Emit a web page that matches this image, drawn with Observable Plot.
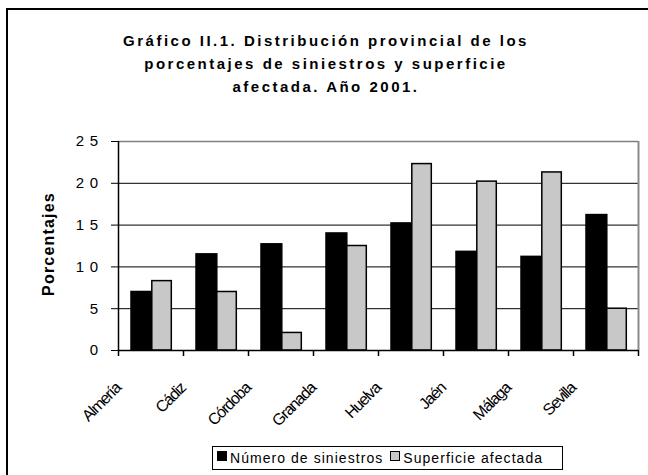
<!DOCTYPE html>
<html><head><meta charset="utf-8">
<script src="https://cdn.jsdelivr.net/npm/d3@7"></script>
<script src="https://cdn.jsdelivr.net/npm/@observablehq/plot@0.6"></script>
<style>
html,body{margin:0;padding:0;background:#fff;overflow:hidden;}
#wrap{position:relative;width:648px;height:475px;overflow:hidden;font-family:"Liberation Sans",Arial,sans-serif;color:#000;}
#chart{position:absolute;left:0;top:0;}
#hline{position:absolute;left:6px;top:8px;width:642px;height:2px;background:#000;z-index:11;}
#vline{position:absolute;left:6px;top:8px;width:2px;height:467px;background:#000;}
#title{position:absolute;left:0;width:652px;top:29px;text-align:center;font-weight:bold;font-size:15px;letter-spacing:2.5px;line-height:23px;}
#legend{position:absolute;left:212px;top:446px;width:349px;height:22px;border:1px solid #000;display:flex;align-items:center;font-size:14px;letter-spacing:1.05px;}
#legend .sw{display:inline-block;width:8px;height:8px;border:1px solid #000;margin:0 3px 0 4px;position:relative;top:-2px;}
#legend .lt{margin-right:3px;}
</style>
</head><body>
<div id="wrap">
<div id="chart"></div>
<div id="hline"></div>
<div id="vline"></div>
<div id="title"></div>
<div id="legend"></div>
</div>
<script>
const titleLines = ["Gráfico II.1. Distribución provincial de los", "porcentajes de siniestros y superficie", "afectada. Año 2001."];
const provincias = ["Almería","Cádiz","Córdoba","Granada","Huelva","Jaén","Málaga","Sevilla"];
const series = ["Número de siniestros","Superficie afectada"];
const numeroSiniestros = [7.0, 11.5, 12.7, 14.0, 15.2, 11.8, 11.2, 16.2];
const superficieAfectada = [8.3, 7.0, 2.1, 12.5, 22.3, 20.2, 21.3, 5.0];
const yTicks = [0, 5, 10, 15, 20, 25];
const yTickLabels = ["0", "5", "10", "15", "20", "25"];
const gridValues = [5, 10, 15, 20];
const yLabel = "Porcentajes";
const colors = ["#000000", "#c8c8c8"];

const W = 648, H = 475, mL = 118, mR = 10, mT = 141, mB = 125;
const step = (W - mL - mR) / provincias.length;
const half = step / 2;
const last = provincias[provincias.length - 1];

const rows = provincias.flatMap((p, i) => [
  {p, s: series[0], v: numeroSiniestros[i]},
  {p, s: series[1], v: superficieAfectada[i]}
]);
const tickRows = yTicks.map((v, i) => ({v, label: yTickLabels[i]}));

const chart = Plot.plot({
  width: W, height: H,
  marginLeft: mL, marginRight: mR, marginTop: mT, marginBottom: mB,
  style: {fontFamily: "'Liberation Sans', Arial, sans-serif", fontSize: "15px", color: "#000", background: "transparent"},
  x: {domain: provincias, padding: 0, axis: null},
  y: {domain: [0, 25], ticks: yTicks, tickSize: 7, tickPadding: 7, label: null, tickFormat: () => ""},
  marks: [
    Plot.ruleY(gridValues, {stroke: "#000", strokeWidth: 1}),
    Plot.ruleY([25], {stroke: "#808080", strokeWidth: 1.5}),
    Plot.ruleX([last], {x: d => d, y1: 0, y2: 25, dx: half, stroke: "#8a8a8a", strokeWidth: 2}),
    Plot.barY(rows.filter(d => d.s === series[0]), {x: "p", y: "v", fill: colors[0], stroke: "#000", strokeWidth: 1.5, insetLeft: 0.2 * step, insetRight: 0.48 * step}),
    Plot.barY(rows.filter(d => d.s === series[1]), {x: "p", y: "v", fill: colors[1], stroke: "#000", strokeWidth: 1.5, insetLeft: 0.52 * step, insetRight: 0.18 * step}),
    Plot.ruleY([0], {stroke: "#000", strokeWidth: 1.5}),
    Plot.ruleX([provincias[0]], {x: d => d, y1: 0, y2: 25, dx: -half, stroke: "#000", strokeWidth: 1.5}),
    Plot.ruleX(provincias, {x: d => d, y1: 0, y2: 0, insetBottom: -6, dx: -half, stroke: "#000", strokeWidth: 1.5}),
    Plot.ruleX([last], {x: d => d, y1: 0, y2: 0, insetBottom: -6, dx: half, stroke: "#000", strokeWidth: 1.5}),
    Plot.text(tickRows, {y: "v", text: "label", frameAnchor: "left", textAnchor: "end", dx: -15, fontSize: 15}),
    Plot.text(provincias, {x: d => d, y: 0, text: d => d, rotate: -45, textAnchor: "end", dx: -33, dy: 35, fontSize: 16}),
    Plot.text([yLabel], {frameAnchor: "left", text: d => d, rotate: -90, textAnchor: "middle", dx: -70, dy: -2, fontWeight: "bold", fontSize: 16})
  ]
});
document.getElementById("chart").appendChild(chart);

d3.select(chart).selectAll("text").each(function() {
  const s = this.textContent;
  if (yTickLabels.includes(s)) this.setAttribute("letter-spacing", "5.5");
  else if (provincias.includes(s)) this.setAttribute("letter-spacing", "-1.2");
  else if (s === yLabel) this.setAttribute("letter-spacing", "1.2");
});

const t = document.getElementById("title");
titleLines.forEach(l => { const d = document.createElement("div"); d.textContent = l; t.appendChild(d); });

const lg = document.getElementById("legend");
series.forEach((s, i) => {
  const sw = document.createElement("span"); sw.className = "sw"; sw.style.background = colors[i]; lg.appendChild(sw);
  const tx = document.createElement("span"); tx.className = "lt"; tx.textContent = s; lg.appendChild(tx);
});
</script>
</body></html>
